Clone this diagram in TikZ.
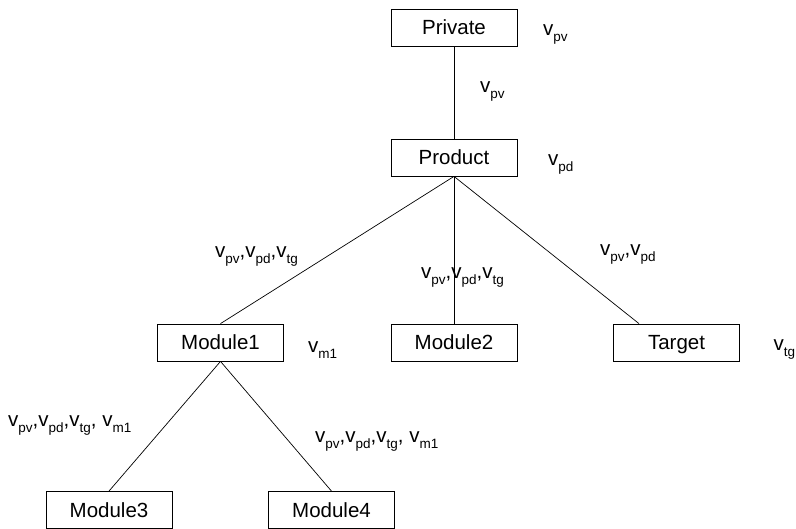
\documentclass[tikz,border=0pt]{standalone}
\usepackage{fontspec}
\setmainfont{Liberation Sans}
% variable name with a lowered, smaller subscript
\newcommand\vs[1]{v\raisebox{-0.32em}{\fontsize{13.5pt}{13.5pt}\selectfont #1}}
\begin{document}
\begin{tikzpicture}[x=1pt,y=-1pt,
  font=\fontsize{20.5pt}{24pt}\selectfont,
  box/.style={draw, line width=0.8pt, minimum width=126pt, minimum height=37pt,
    inner sep=0pt, text height=14.7pt, text depth=0pt},
  lab/.style={anchor=base west, inner sep=0pt},
  link/.style={line width=0.7pt}]
\useasboundingbox (0,0) rectangle (796,528);

% boxes
\node[box] (private) at (454,27.5)  {Private};
\node[box] (product) at (454,157.5) {Product};
\node[box] (module1) at (220.5,342.5) {Module1};
\node[box] (module2) at (454,342.5) {Module2};
\node[box] (target)  at (676.5,342.5) {Target};
\node[box] (module3) at (109,510) {Module3};
\node[box] (module4) at (331.5,510) {Module4};

% connectors
\draw[link] (private.south) -- (product.north);
\draw[link] (product.south) -- (module1.north);
\draw[link] (product.south) -- (module2.north);
\draw[link] (product.south) -- ([xshift=-37.5pt]target.north);
\draw[link] (module1.south) -- (module3.north);
\draw[link] (module1.south) -- (module4.north);

% node variables
\node[lab] (lprivate) at (543,35)  {\vs{pv}};
\node[lab] (lproduct) at (548,165) {\vs{pd}};
\node[lab] (lmodule1) at (308,352) {\vs{m1}};
\node[lab] (ltarget)  at (773.5,350) {\vs{tg}};

% edge variables
\node[lab] (epp) at (480,92)  {\vs{pv}};
\node[lab] (epm1) at (215,257) {\vs{pv},\vs{pd},\vs{tg}};
\node[lab] (epm2) at (421,278) {\vs{pv},\vs{pd},\vs{tg}};
\node[lab] (ept)  at (600,255) {\vs{pv},\vs{pd}};
\node[lab] (em13) at (8,426)   {\vs{pv},\vs{pd},\vs{tg}, \vs{m1}};
\node[lab] (em14) at (315,442) {\vs{pv},\vs{pd},\vs{tg}, \vs{m1}};
\end{tikzpicture}
\end{document}
